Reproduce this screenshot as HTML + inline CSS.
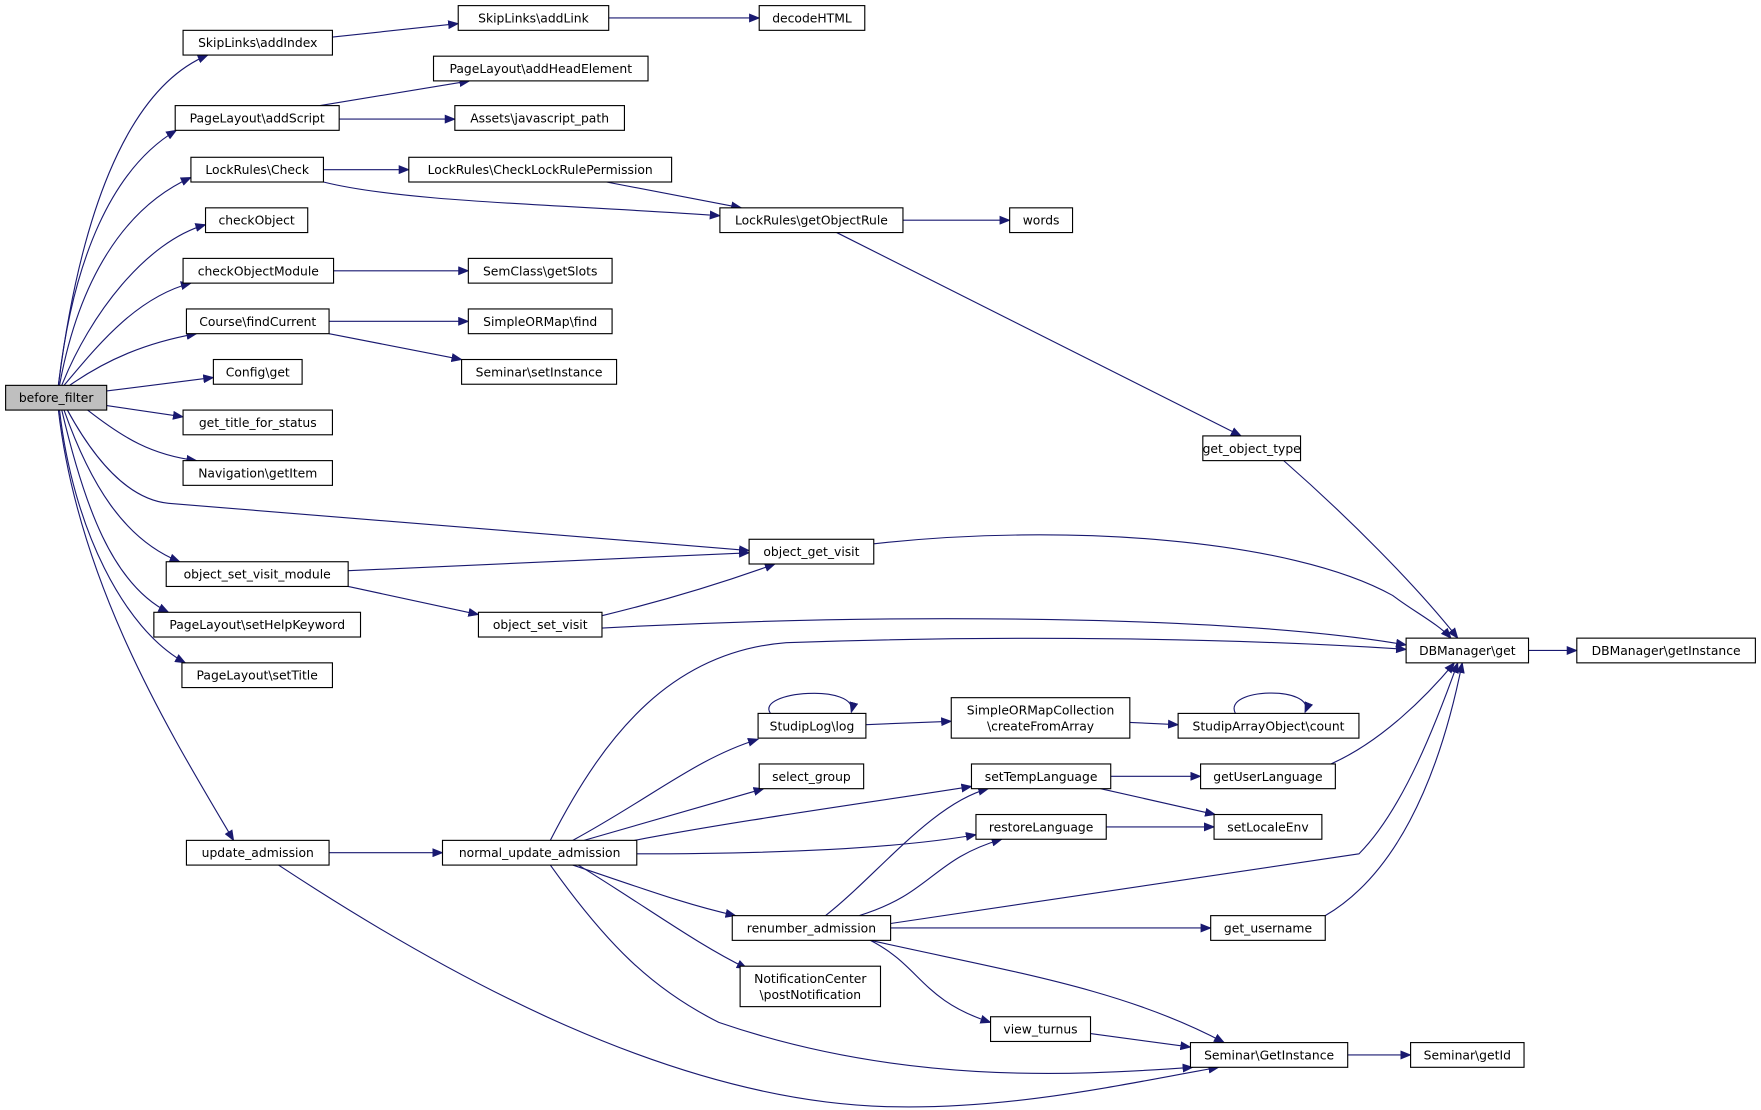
<!DOCTYPE html>
<html><head><meta charset="utf-8"><style>
html,body{margin:0;padding:0;background:#fff;}
svg{display:block;}
text{font-family:"DejaVu Sans","Liberation Sans",sans-serif;font-size:11px;fill:#000;}
.n{fill:#fff;stroke:#000;stroke-width:1;}
.e{fill:none;stroke:#191970;stroke-width:1;}
</style></head><body>
<svg width="1761" height="1110" viewBox="0 0 1568 988" preserveAspectRatio="none" xmlns="http://www.w3.org/2000/svg">
<defs><marker id="a" markerWidth="10" markerHeight="8" refX="9" refY="4" orient="auto" markerUnits="userSpaceOnUse"><path d="M0,0 L10,4 L0,8 Z" fill="#191970"/></marker></defs>
<g class="edges">
<path class="e" marker-end="url(#a)" d="M52,343 C70,200 110,80 185,49"/>
<path class="e" marker-end="url(#a)" d="M52,343 C65,230 100,150 157,116"/>
<path class="e" marker-end="url(#a)" d="M53,343 C70,250 110,185 170,158"/>
<path class="e" marker-end="url(#a)" d="M55,343 C80,280 130,215 183,200"/>
<path class="e" marker-end="url(#a)" d="M57,343 C85,310 120,265 170,252"/>
<path class="e" marker-end="url(#a)" d="M62,343 C95,320 130,305 175,297"/>
<path class="e" marker-end="url(#a)" d="M95,348 L190,336"/>
<path class="e" marker-end="url(#a)" d="M95,361 L163,371"/>
<path class="e" marker-end="url(#a)" d="M78,365 C110,390 135,405 175,410"/>
<path class="e" marker-end="url(#a)" d="M60,365 C90,420 120,445 150,448 L667,490"/>
<path class="e" marker-end="url(#a)" d="M57,365 C80,430 110,480 160,500"/>
<path class="e" marker-end="url(#a)" d="M55,365 C75,450 100,520 150,545"/>
<path class="e" marker-end="url(#a)" d="M53,365 C65,470 110,560 165,590"/>
<path class="e" marker-end="url(#a)" d="M52,365 C70,520 150,650 208,748"/>
<path class="e" marker-end="url(#a)" d="M296,33 L408,21"/>
<path class="e" marker-end="url(#a)" d="M542,16 L676,16"/>
<path class="e" marker-end="url(#a)" d="M285,94 L418,72"/>
<path class="e" marker-end="url(#a)" d="M302,106 L405,106"/>
<path class="e" marker-end="url(#a)" d="M288,151 L364,151"/>
<path class="e" marker-end="url(#a)" d="M288,162 C360,180 500,182 641,192"/>
<path class="e" marker-end="url(#a)" d="M540,162 L660,185"/>
<path class="e" marker-end="url(#a)" d="M804,196 L899,196"/>
<path class="e" marker-end="url(#a)" d="M745,207 L1105,388"/>
<path class="e" marker-end="url(#a)" d="M297,241 L417,241"/>
<path class="e" marker-end="url(#a)" d="M293,286 L417,286"/>
<path class="e" marker-end="url(#a)" d="M293,297 L411,320"/>
<path class="e" marker-end="url(#a)" d="M1143,410 C1200,460 1260,520 1298,568"/>
<path class="e" marker-end="url(#a)" d="M778,484 C950,465 1150,480 1240,530 C1260,545 1280,555 1292,568"/>
<path class="e" marker-end="url(#a)" d="M310,508 L667,492"/>
<path class="e" marker-end="url(#a)" d="M310,522 L426,547"/>
<path class="e" marker-end="url(#a)" d="M536,548 C590,535 640,520 690,502"/>
<path class="e" marker-end="url(#a)" d="M536,559 C800,545 1100,548 1252,574"/>
<path class="e" marker-end="url(#a)" d="M490,748 C540,650 600,580 700,572 C900,565 1100,568 1252,578"/>
<path class="e" marker-end="url(#a)" d="M510,748 C580,710 620,675 675,658"/>
<path class="e" marker-end="url(#a)" d="M686,635 C672,615 765,608 758,634"/>
<path class="e" marker-end="url(#a)" d="M1100,635 C1088,612 1172,610 1162,634"/>
<path class="e" marker-end="url(#a)" d="M771,645 L847,642"/>
<path class="e" marker-end="url(#a)" d="M1006,643 L1049,645"/>
<path class="e" marker-end="url(#a)" d="M520,748 L680,702"/>
<path class="e" marker-end="url(#a)" d="M565,748 C660,730 770,715 865,700"/>
<path class="e" marker-end="url(#a)" d="M567,760 C700,760 800,755 869,743"/>
<path class="e" marker-end="url(#a)" d="M510,770 C570,790 610,805 655,815"/>
<path class="e" marker-end="url(#a)" d="M515,770 C580,810 620,840 665,862"/>
<path class="e" marker-end="url(#a)" d="M490,770 C540,840 580,880 640,910 C800,965 950,958 1062,950"/>
<path class="e" marker-end="url(#a)" d="M293,759 L394,759"/>
<path class="e" marker-end="url(#a)" d="M248,770 C400,870 600,980 790,985 C900,988 1000,965 1085,950"/>
<path class="e" marker-end="url(#a)" d="M989,691 L1069,691"/>
<path class="e" marker-end="url(#a)" d="M980,702 L1082,725"/>
<path class="e" marker-end="url(#a)" d="M985,736 L1081,736"/>
<path class="e" marker-end="url(#a)" d="M1185,680 C1230,660 1270,620 1295,590"/>
<path class="e" marker-end="url(#a)" d="M735,815 C780,780 830,715 880,702"/>
<path class="e" marker-end="url(#a)" d="M765,815 C830,795 830,765 892,747"/>
<path class="e" marker-end="url(#a)" d="M793,822 L1210,760 C1250,720 1280,640 1298,590"/>
<path class="e" marker-end="url(#a)" d="M793,826 L1078,826"/>
<path class="e" marker-end="url(#a)" d="M775,837 C820,860 820,890 882,910"/>
<path class="e" marker-end="url(#a)" d="M775,837 C900,865 1000,880 1090,928"/>
<path class="e" marker-end="url(#a)" d="M1180,815 C1240,780 1280,700 1302,590"/>
<path class="e" marker-end="url(#a)" d="M971,920 L1060,932"/>
<path class="e" marker-end="url(#a)" d="M1200,939 L1256,939"/>
<path class="e" marker-end="url(#a)" d="M1361,579 L1404,579"/>
</g>
<g text-anchor="middle">
<rect x="5" y="343" width="90" height="22" fill="#bfbfbf" stroke="#000"/><text x="50" y="358">before_filter</text>
<rect class="n" x="163" y="27" width="133" height="22"/><text x="229.5" y="42">SkipLinks\addIndex</text>
<rect class="n" x="408" y="5" width="134" height="22"/><text x="475" y="20">SkipLinks\addLink</text>
<rect class="n" x="676" y="5" width="94" height="22"/><text x="723" y="20">decodeHTML</text>
<rect class="n" x="386" y="50" width="191" height="22"/><text x="481.5" y="65">PageLayout\addHeadElement</text>
<rect class="n" x="156" y="94" width="146" height="22"/><text x="229" y="109">PageLayout\addScript</text>
<rect class="n" x="405" y="94" width="151" height="22"/><text x="480.5" y="109">Assets\javascript_path</text>
<rect class="n" x="170" y="140" width="118" height="22"/><text x="229" y="155">LockRules\Check</text>
<rect class="n" x="364" y="140" width="234" height="22"/><text x="481" y="155">LockRules\CheckLockRulePermission</text>
<rect class="n" x="641" y="185" width="163" height="22"/><text x="722.5" y="200">LockRules\getObjectRule</text>
<rect class="n" x="899" y="185" width="56" height="22"/><text x="927" y="200">words</text>
<rect class="n" x="183" y="185" width="91" height="22"/><text x="228.5" y="200">checkObject</text>
<rect class="n" x="163" y="230" width="134" height="22"/><text x="230" y="245">checkObjectModule</text>
<rect class="n" x="417" y="230" width="128" height="22"/><text x="481" y="245">SemClass\getSlots</text>
<rect class="n" x="166" y="275" width="127" height="22"/><text x="229.5" y="290">Course\findCurrent</text>
<rect class="n" x="417" y="275" width="128" height="22"/><text x="481" y="290">SimpleORMap\find</text>
<rect class="n" x="411" y="320" width="138" height="22"/><text x="480" y="335">Seminar\setInstance</text>
<rect class="n" x="190" y="320" width="79" height="22"/><text x="229.5" y="335">Config\get</text>
<rect class="n" x="163" y="365" width="133" height="22"/><text x="229.5" y="380">get_title_for_status</text>
<rect class="n" x="163" y="410" width="133" height="22"/><text x="229.5" y="425">Navigation\getItem</text>
<rect class="n" x="1071" y="388" width="87" height="22"/><text x="1114.5" y="403">get_object_type</text>
<rect class="n" x="667" y="480" width="111" height="22"/><text x="722.5" y="495">object_get_visit</text>
<rect class="n" x="148" y="500" width="162" height="22"/><text x="229" y="515">object_set_visit_module</text>
<rect class="n" x="426" y="545" width="110" height="22"/><text x="481" y="560">object_set_visit</text>
<rect class="n" x="137" y="545" width="184" height="22"/><text x="229" y="560">PageLayout\setHelpKeyword</text>
<rect class="n" x="162" y="590" width="134" height="22"/><text x="229" y="605">PageLayout\setTitle</text>
<rect class="n" x="1252" y="568" width="109" height="22"/><text x="1306.5" y="583">DBManager\get</text>
<rect class="n" x="1404" y="568" width="159" height="22"/><text x="1483.5" y="583">DBManager\getInstance</text>
<rect class="n" x="675" y="635" width="96" height="22"/><text x="723" y="650">StudipLog\log</text>
<rect class="n" x="847" y="621" width="159" height="36"/><text x="926.5" y="636">SimpleORMapCollection</text><text x="926.5" y="650">\createFromArray</text>
<rect class="n" x="1049" y="635" width="161" height="22"/><text x="1129.5" y="650">StudipArrayObject\count</text>
<rect class="n" x="676" y="680" width="93" height="22"/><text x="722.5" y="695">select_group</text>
<rect class="n" x="865" y="680" width="124" height="22"/><text x="927" y="695">setTempLanguage</text>
<rect class="n" x="1069" y="680" width="120" height="22"/><text x="1129" y="695">getUserLanguage</text>
<rect class="n" x="869" y="725" width="116" height="22"/><text x="927" y="740">restoreLanguage</text>
<rect class="n" x="1081" y="725" width="96" height="22"/><text x="1129" y="740">setLocaleEnv</text>
<rect class="n" x="166" y="748" width="127" height="22"/><text x="229.5" y="763">update_admission</text>
<rect class="n" x="394" y="748" width="173" height="22"/><text x="480.5" y="763">normal_update_admission</text>
<rect class="n" x="652" y="815" width="141" height="22"/><text x="722.5" y="830">renumber_admission</text>
<rect class="n" x="1078" y="815" width="102" height="22"/><text x="1129" y="830">get_username</text>
<rect class="n" x="659" y="860" width="125" height="36"/><text x="721.5" y="875">NotificationCenter</text><text x="721.5" y="889">\postNotification</text>
<rect class="n" x="882" y="905" width="89" height="22"/><text x="926.5" y="920">view_turnus</text>
<rect class="n" x="1060" y="928" width="140" height="22"/><text x="1130" y="943">Seminar\GetInstance</text>
<rect class="n" x="1256" y="928" width="101" height="22"/><text x="1306.5" y="943">Seminar\getId</text>
</g>
</svg>
</body></html>
